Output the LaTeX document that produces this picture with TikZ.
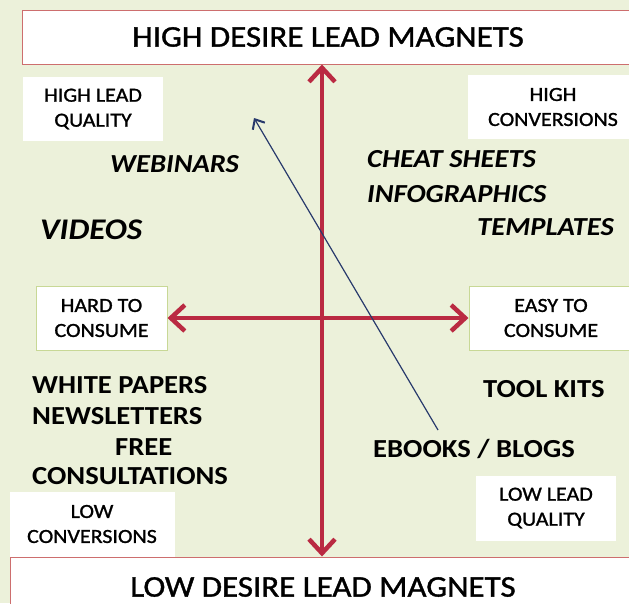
\documentclass[tikz,border=0pt]{standalone}
\usepackage{fontspec}
\setmainfont{Carlito}[FakeStretch=1.1]
\newfontfamily\labelfont{Carlito}[FakeStretch=1.1,FakeBold=1.2]
\usetikzlibrary{arrows.meta,positioning}

\definecolor{paper}{RGB}{236,241,218}
\definecolor{axisred}{RGB}{186,42,66}
\definecolor{trendblue}{RGB}{40,58,108}
\definecolor{boxgreen}{RGB}{200,216,150}
\definecolor{boxred}{RGB}{205,110,110}

\begin{document}
\begin{tikzpicture}[x=1pt,y=-1pt]

  % --- styles ---
  \tikzset{
    % the two wide boxes, top and bottom
    titlebox/.style={
      draw=boxred,
      line width=1pt,
      fill=white,
      text=black,
      font=\labelfont\fontsize{30}{36}\selectfont,
      align=center,
      inner sep=0pt
    },
    % small white labels in the corners
    cornerbox/.style={
      fill=white,
      text=black,
      font=\labelfont\fontsize{20}{25}\selectfont,
      align=center,
      inner sep=0pt
    },
    % labels at the ends of the horizontal axis
    endbox/.style={
      cornerbox,
      draw=boxgreen,
      line width=1pt
    },
    % lead magnet names
    magnet/.style={
      font=\fontsize{26}{30}\selectfont\bfseries,
      anchor=base west,
      inner sep=0pt
    },
    slanted/.style={
      magnet,
      font=\fontsize{26}{30}\selectfont\bfseries\itshape
    },
    axisarrow/.style={
      draw=axisred,
      line width=4.5pt,
      {Straight Barb[length=14pt,width=26pt,line width=4.5pt]}-{Straight Barb[length=14pt,width=26pt,line width=4.5pt]}
    },
    trendarrow/.style={
      draw=trendblue,
      line width=1.2pt,
      -{Straight Barb[length=8pt,width=14pt,line width=2pt]}
    }
  }

  % --- background ---
  \fill[paper] (0,0) rectangle (629,603);
  \useasboundingbox (0,0) rectangle (629,603);

  % 1. title boxes
  \node[titlebox, minimum width=612pt, minimum height=54pt] (high) at (328,37) {HIGH DESIRE LEAD MAGNETS};
  \node[titlebox, minimum width=626pt, minimum height=60pt] (low) at (323,587) {LOW DESIRE LEAD MAGNETS};

  % 2. corner labels
  \node[cornerbox, minimum width=140pt, minimum height=64pt] (hquality) at (93,109) {HIGH LEAD\\QUALITY};
  \node[cornerbox, minimum width=170pt, minimum height=64pt] (hconv) at (553,107) {HIGH\\CONVERSIONS};
  \node[cornerbox, minimum width=165pt, minimum height=65pt] (lconv) at (92,524) {LOW\\CONVERSIONS};
  \node[cornerbox, minimum width=140pt, minimum height=65pt] (lquality) at (546,508) {LOW LEAD\\QUALITY};

  % 3. ends of the horizontal axis
  \node[endbox, minimum width=131pt, minimum height=64pt] (hard) at (101.5,318) {HARD TO\\CONSUME};
  \node[endbox, minimum width=164pt, minimum height=64pt] (easy) at (551,318) {EASY TO\\CONSUME};

  % 4. lead magnets
  \node[slanted] (webinars) at (110,172) {WEBINARS};
  \node[slanted, font=\fontsize{30}{34}\selectfont\bfseries\itshape] (videos) at (40,239) {VIDEOS};
  \node[slanted] (cheat) at (367,167) {CHEAT SHEETS};
  \node[slanted] (info) at (367,202) {INFOGRAPHICS};
  \node[slanted] (templates) at (477,235) {TEMPLATES};

  \node[magnet] (white) at (32,393) {WHITE PAPERS};
  \node[magnet] (news) at (32,424) {NEWSLETTERS};
  \node[magnet] (free) at (115,455) {FREE};
  \node[magnet] (consult) at (32,484) {CONSULTATIONS};
  \node[magnet] (tools) at (483,397) {TOOL KITS};
  \node[magnet] (ebooks) at (373,457) {EBOOKS / BLOGS};

  % 5. axes
  \coordinate (vx) at (322,0);
  \draw[axisarrow] (high.south -| vx) -- (low.north -| vx);
  \draw[axisarrow] (hard.east) -- (easy.west);

  % 6. thin arrow from the bottom right to the top left
  \coordinate (tstart) at (438,430);
  \coordinate (tend) at (254,118);
  \draw[trendarrow] (tstart) -- (tend);

\end{tikzpicture}
\end{document}
